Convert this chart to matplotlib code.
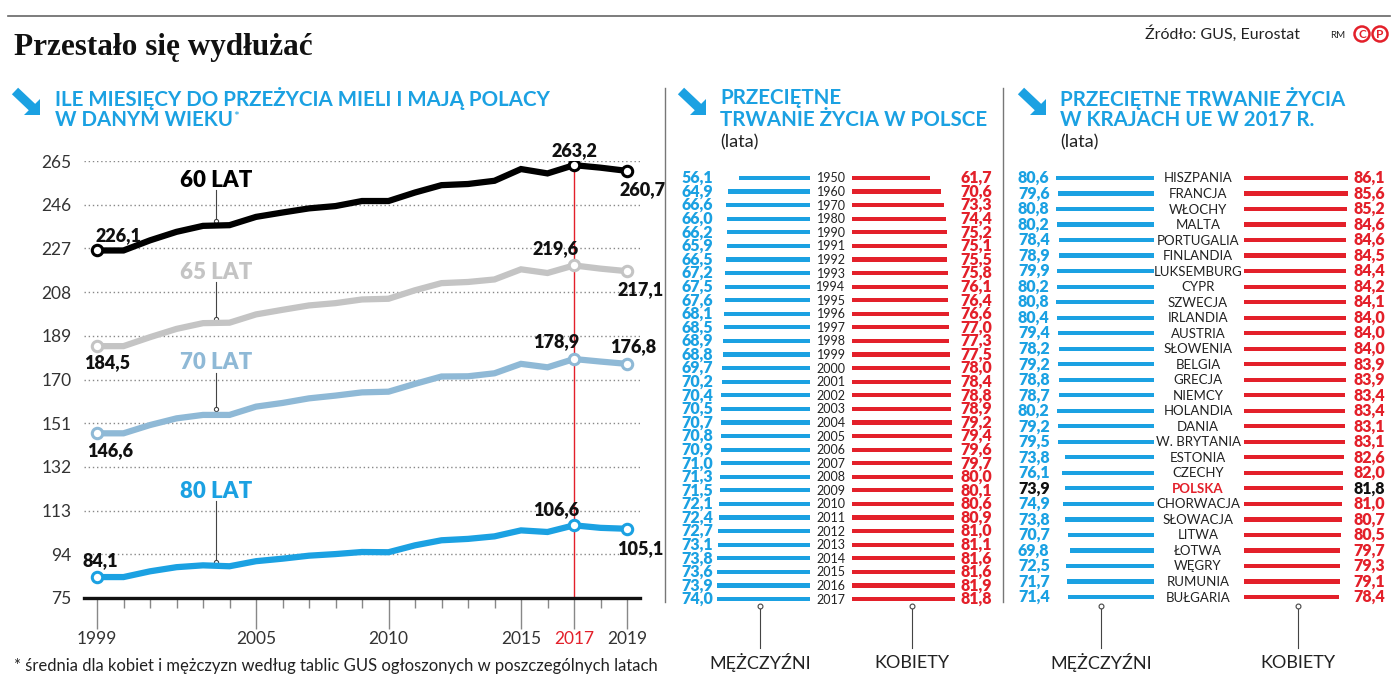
import matplotlib
matplotlib.use("Agg")
import matplotlib.pyplot as plt
from matplotlib.patches import Circle, Polygon

# --- data ---
years = list(range(1999, 2020))
lat60 = [226.1, 226.1, 230.5, 234.2, 236.8, 237.1, 240.7, 242.6, 244.4, 245.4, 247.6,
         247.6, 251.3, 254.5, 255.0, 256.4, 261.5, 259.6, 263.2, 262.1, 260.7]
lat65 = [184.5, 184.5, 188.4, 192.0, 194.5, 194.7, 198.3, 200.3, 202.2, 203.2, 204.8,
         205.1, 208.8, 211.9, 212.4, 213.5, 217.9, 216.3, 219.6, 218.2, 217.1]
lat70 = [146.6, 146.6, 150.2, 153.1, 154.6, 154.6, 158.2, 159.8, 161.8, 163.0, 164.4,
         164.7, 168.1, 171.3, 171.4, 172.7, 176.8, 175.3, 178.9, 177.8, 176.8]
lat80 = [84.1, 84.1, 86.6, 88.4, 89.2, 88.8, 91.0, 92.1, 93.4, 94.1, 95.0,
         94.9, 97.9, 100.1, 100.7, 101.8, 104.4, 103.7, 106.6, 105.5, 105.1]
y_ticks = [75, 94, 113, 132, 151, 170, 189, 208, 227, 246, 265]
x_major = [1999, 2005, 2010, 2015, 2017, 2019]

pl_years = ['1950', '1960', '1970', '1980'] + [str(y) for y in range(1990, 2018)]
pl_men = [56.1, 64.9, 66.6, 66.0, 66.2, 65.9, 66.5, 67.2, 67.5, 67.6, 68.1, 68.5, 68.9, 68.8,
          69.7, 70.2, 70.4, 70.5, 70.7, 70.8, 70.9, 71.0, 71.3, 71.5, 72.1, 72.4, 72.7, 73.1,
          73.8, 73.6, 73.9, 74.0]
pl_women = [61.7, 70.6, 73.3, 74.4, 75.2, 75.1, 75.5, 75.8, 76.1, 76.4, 76.6, 77.0, 77.3, 77.5,
            78.0, 78.4, 78.8, 78.9, 79.2, 79.4, 79.6, 79.7, 80.0, 80.1, 80.6, 80.9, 81.0, 81.1,
            81.6, 81.6, 81.9, 81.8]

countries = ['HISZPANIA', 'FRANCJA', 'WŁOCHY', 'MALTA', 'PORTUGALIA', 'FINLANDIA', 'LUKSEMBURG',
             'CYPR', 'SZWECJA', 'IRLANDIA', 'AUSTRIA', 'SŁOWENIA', 'BELGIA', 'GRECJA', 'NIEMCY',
             'HOLANDIA', 'DANIA', 'W. BRYTANIA', 'ESTONIA', 'CZECHY', 'POLSKA', 'CHORWACJA',
             'SŁOWACJA', 'LITWA', 'ŁOTWA', 'WĘGRY', 'RUMUNIA', 'BUŁGARIA']
eu_men = [80.6, 79.6, 80.8, 80.2, 78.4, 78.9, 79.9, 80.2, 80.8, 80.4, 79.4, 78.2, 79.2, 78.8,
          78.7, 80.2, 79.2, 79.5, 73.8, 76.1, 73.9, 74.9, 73.8, 70.7, 69.8, 72.5, 71.7, 71.4]
eu_women = [86.1, 85.6, 85.2, 84.6, 84.6, 84.5, 84.4, 84.2, 84.1, 84.0, 84.0, 84.0, 83.9, 83.9,
            83.4, 83.4, 83.1, 83.1, 82.6, 82.0, 81.8, 81.0, 80.7, 80.5, 79.7, 79.3, 79.1, 78.4]

BLUE = '#1ba1e2'
RED = '#e3202a'
GRAY = '#c4c4c4'
STEEL = '#8fb9d6'
DARK = '#222222'
NARROW = ['Lato', 'DejaVu Sans']
HEAD = ['Lato', 'DejaVu Sans']

W, H = 1400, 686
fig = plt.figure(figsize=(14, 6.86), dpi=100)


def px_axes(x0, y0, x1, y1, **kw):
    return fig.add_axes([x0 / W, 1 - y1 / H, (x1 - x0) / W, (y1 - y0) / H], **kw)


def fmt(v):
    return f'{v:.1f}'.replace('.', ',')


# overlay in pixel coordinates for texts and decorations
ov = px_axes(0, 0, W, H)
ov.set_xlim(0, W)
ov.set_ylim(H, 0)
ov.axis('off')
ov.set_zorder(5)
ov.patch.set_alpha(0)

ov.plot([8, 1390], [16, 16], color='#666666', lw=1.2)
ov.text(14, 47, 'Przestało się wydłużać', family=['Liberation Serif', 'DejaVu Serif'],
        weight='bold', fontsize=22.5, va='center', color='#111111')
ov.text(1300, 34, 'Źródło: GUS, Eurostat', family=HEAD, fontsize=11.5, ha='right', va='center',
        color=DARK)
ov.text(1338, 35, 'RM', family=HEAD, fontsize=7, ha='center', va='center', color=DARK)
for cx, ch in [(1362, 'C'), (1380, 'P')]:
    ov.add_patch(Circle((cx, 34), 7.5, fill=False, ec=RED, lw=1.8))
    ov.text(cx, 34.5, ch, family=HEAD, fontsize=8.5, weight='bold', color=RED,
            ha='center', va='center')

# dividers
for x in (665, 1003):
    ov.plot([x, x], [88, 602], color='#777777', lw=1)


def arrow_icon(x, y):
    ov.add_patch(Polygon([(x + 12, y + 27), (x + 28, y + 27), (x + 28, y + 11)],
                         closed=True, color=BLUE, lw=0))
    ov.plot([x + 3, x + 22], [y + 3, y + 21], color=BLUE, lw=6.5, solid_capstyle='butt')


arrow_icon(12, 88)
arrow_icon(678, 88)
arrow_icon(1018, 88)

hk = dict(family=HEAD, weight='bold', fontsize=14.8, color=BLUE, va='center')
ov.text(55, 98, 'ILE MIESIĘCY DO PRZEŻYCIA MIELI I MAJĄ POLACY', **hk)
ov.text(55, 120, 'W DANYM WIEKU', **hk)
ov.text(233, 117, '*', family=HEAD, fontsize=10, color=BLUE, va='center')
ov.text(720, 98, 'PRZECIĘTNE', **hk)
ov.text(720, 120, 'TRWANIE ŻYCIA W POLSCE', **hk)
ov.text(720, 142, '(lata)', family=HEAD, fontsize=13, color=DARK, va='center')
ov.text(1060, 98, 'PRZECIĘTNE TRWANIE ŻYCIA', **hk)
ov.text(1060, 120, 'W KRAJACH UE W 2017 R.', **hk)
ov.text(1060, 142, '(lata)', family=HEAD, fontsize=13, color=DARK, va='center')

ov.text(14, 666, '* średnia dla kobiet i mężczyzn według tablic GUS ogłoszonych w poszczególnych latach',
        family=HEAD, fontsize=12, color=DARK, va='center')

# --- left: line chart ---
ax = px_axes(84, 161, 640, 598)
ppy = (627 - 97) / 20
ax.set_xlim(1999 - 13 / ppy, 2019 + 13 / ppy)
ax.set_ylim(75, 265)
for s in ['top', 'right', 'left']:
    ax.spines[s].set_visible(False)
ax.spines['bottom'].set_linewidth(2.4)
ax.spines['bottom'].set_color('#111111')
ax.set_yticks(y_ticks)
ax.set_yticklabels([str(v) for v in y_ticks], family=NARROW, fontsize=12.5, color='#333333')
ax.tick_params(axis='y', length=0, pad=9)
ax.set_xticks(x_major)
ax.set_xticks(years, minor=True)
ax.set_xticklabels([str(v) for v in x_major], family=NARROW, fontsize=12.5, color='#333333')
ax.tick_params(axis='x', which='major', length=22, width=1, color='#888888', pad=2)
ax.tick_params(axis='x', which='minor', length=7, width=1, color='#888888')
for lbl in ax.get_xticklabels():
    if lbl.get_text() == '2017':
        lbl.set_color(RED)
for v in y_ticks[1:]:
    ax.axhline(v, color='#888888', lw=1, ls=(0, (1, 2)), zorder=1)
ax.axvline(2017, color=RED, lw=1, zorder=2)
ax.set_ylim(75, 265)

series = [(lat60, '#000000', '60 LAT', 256.5, 252.5, 239),
          (lat65, GRAY, '65 LAT', 216.7, 212.5, 196.5),
          (lat70, STEEL, '70 LAT', 177.2, 173, 157.0),
          (lat80, BLUE, '80 LAT', 121.5, 117, 90.5)]
for vals, col, name, ty, l0, l1 in series:
    ax.plot(years, vals, color=col, lw=4.5, solid_joinstyle='miter', zorder=3)
    idx = [0, 18, 20]
    ax.plot([years[i] for i in idx], [vals[i] for i in idx], 'o', ms=7.5, mfc='white',
            mec=col, mew=2.2, zorder=4)
    ax.text(2003.5, ty, name, family=NARROW, weight='heavy', fontsize=16, color=col,
            ha='center', va='center')
    ax.plot([2003.5, 2003.5], [l0, l1], color='#444444', lw=0.8, zorder=2)
    ax.plot([2003.5], [l1], 'o', ms=3, mfc='white', mec='#444444', mew=0.8, zorder=2)

lk = dict(family=NARROW, weight='heavy', fontsize=13, color='#111111', ha='center',
          va='center', textcoords='offset points')
px = 0.72
first_off = [(21, 15), (10, -16), (13, -17), (3, 16)]
peak_off = [(0, 15), (-18, 17), (-18, 17), (-18, 16)]
last_off = [(16, -19), (14, -18), (6, 17), (13, -20)]
for k, vals in enumerate([lat60, lat65, lat70, lat80]):
    for i, offs in [(0, first_off), (18, peak_off), (20, last_off)]:
        dx, dy = offs[k]
        ax.annotate(fmt(vals[i]), (years[i], vals[i]), xytext=(dx * px, dy * px), **lk)


# --- bar panels ---
def bar_panel(labels, men, women, top, step, xr_men, xr_women, scale, cx, lab_l, lab_r,
              lab_size, highlight=None):
    n = len(labels)
    bottom = top + step * (n - 1)
    y0, y1 = top - step / 2, bottom + step / 2
    span = 110
    am = px_axes(xr_men - span, y0, xr_men, y1)
    am.set_xlim(span / scale, 0)
    aw = px_axes(xr_women, y0, xr_women + span, y1)
    aw.set_xlim(0, span / scale)
    for a, vals, col in [(am, men, BLUE), (aw, women, RED)]:
        a.barh(range(n), vals, height=4.2 / step, color=col)
        a.set_ylim(n - 0.5, -0.5)
        a.axis('off')
    for i in range(n):
        y = top + i * step
        hl = labels[i] == highlight
        ov.text(cx, y + 0.5, labels[i], family=HEAD, fontsize=lab_size, ha='center', va='center',
                color=RED if hl else DARK, weight='bold' if hl else 'normal')
        ov.text(lab_l, y, fmt(men[i]), family=HEAD, weight='heavy',
                fontsize=11.5, ha='left', va='center', color='#111111' if hl else BLUE)
        ov.text(lab_r, y, fmt(women[i]), family=HEAD, weight='heavy',
                fontsize=11.5, ha='right', va='center', color='#111111' if hl else RED)


bar_panel(pl_years, pl_men, pl_women, 178, (599 - 178) / 31, 810, 852, 1.26, 831, 681, 992, 9)
bar_panel(countries, eu_men, eu_women, 178, (597 - 178) / 27, 1154, 1244, 1.21, 1198, 1018, 1385,
          9.5, highlight='POLSKA')

# legend leaders
for x, name in [(760, 'MĘŻCZYŹNI'), (912, 'KOBIETY'), (1101, 'MĘŻCZYŹNI'), (1298, 'KOBIETY')]:
    ov.plot([x, x], [606, 648], color='#444444', lw=0.8)
    ov.plot([x], [606], 'o', ms=3.5, mfc='white', mec='#444444', mew=0.8)
    ov.text(x, 663, name, family=HEAD, fontsize=13, ha='center', va='center', color=DARK)

fig.savefig('out.png', dpi=100)
